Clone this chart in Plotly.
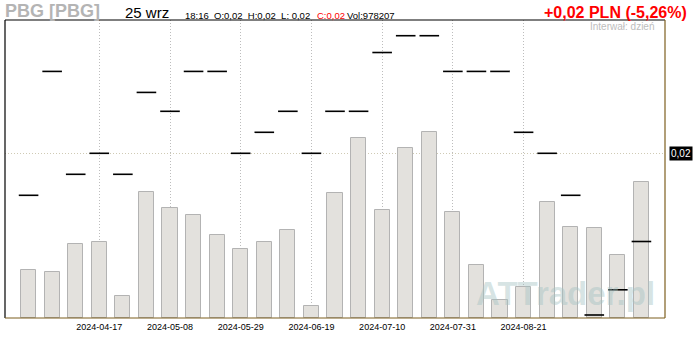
import pandas as pd
import plotly.graph_objects as go

# Weekly sessions (Wednesday dates)
weeks = pd.date_range("2024-03-27", periods=27, freq="7D")

# Weekly turnover, millions of shares
volume_m = [4.8, 4.6, 7.4, 7.6, 2.2, 12.6, 11.0, 10.3, 8.3, 6.9,
            7.6, 8.8, 1.2, 12.5, 18.0, 10.8, 17.0, 18.6, 10.6, 5.3,
            1.8, 3.1, 11.6, 9.1, 9.0, 6.3, 13.6]

# Weekly close, PLN
close_pln = [0.0180, 0.0239, 0.0190, 0.0200, 0.0190, 0.0229, 0.0220, 0.0239, 0.0239, 0.0200,
             0.0210, 0.0220, 0.0200, 0.0220, 0.0220, 0.0248, 0.0256, 0.0256, 0.0239, 0.0239,
             0.0239, 0.0210, 0.0200, 0.0180, 0.0123, 0.0135, 0.0158]

price_ticks = [0.02]
price_tick_text = ["0,02"]
date_ticks = list(weeks[3:22:3])
date_tick_text = [d.strftime("%Y-%m-%d") for d in date_ticks]

header_left = "PBG [PBG]"
header_date = "25 wrz"
quote_black = "18:16  O:0,02  H:0,02  L: 0,02"
quote_red = "C:0,02"
quote_vol = "Vol:978207"
change_text = "+0,02 PLN (-5,26%)"
interval_text = "Interwał: dzień"
watermark = "ATTrader.pl"

FONT = "Liberation Sans, Arial, sans-serif"
WEEK_MS = 7 * 24 * 3600 * 1000

fig = go.Figure()

fig.add_trace(go.Bar(
    x=weeks, y=volume_m, yaxis="y",
    width=0.64 * WEEK_MS,
    marker=dict(color="#e3e1dd", line=dict(color="#b3b3b3", width=1)),
    showlegend=False, hoverinfo="skip",
))

fig.add_trace(go.Scatter(
    x=weeks, y=close_pln, yaxis="y2", mode="markers",
    marker=dict(symbol="line-ew", size=14, color="black",
                line=dict(color="black", width=1.6)),
    showlegend=False, hoverinfo="skip",
))

fig.update_layout(
    width=700, height=340,
    margin=dict(l=5, r=35, t=20, b=22),
    paper_bgcolor="white", plot_bgcolor="white",
    font=dict(family=FONT, color="black"),
    bargap=0,
    xaxis=dict(
        type="date",
        range=[pd.Timestamp("2024-03-20"), pd.Timestamp("2024-10-02")],
        tickvals=date_ticks, ticktext=date_tick_text,
        ticks="", showline=False, zeroline=False,
        showgrid=True, gridcolor="#bdbdbd", griddash="1px,2px", gridwidth=1,
        tickfont=dict(family=FONT, size=9, color="black"),
        ticklabelstandoff=2,
    ),
    yaxis=dict(range=[0, 29.8], visible=False, showgrid=False, zeroline=False),
    yaxis2=dict(
        overlaying="y", side="right",
        range=[0.012157, 0.026348],
        tickvals=price_ticks, showticklabels=False, ticks="",
        showgrid=True, gridcolor="#cfcab4", griddash="1px,2px", gridwidth=1,
        zeroline=False, showline=False,
    ),
)

# Frame: black on the left and top, brown on the right and bottom
frame = [
    (0, 0, 0, 1, "black"),
    (0, 1, 1, 1, "black"),
    (1, 0, 1, 1, "#7d5e1e"),
    (0, 0, 1, 0, "#7d5e1e"),
]
for x0, y0, x1, y1, col in frame:
    fig.add_shape(type="line", xref="paper", yref="paper",
                  x0=x0, y0=y0, x1=x1, y1=y1,
                  line=dict(color=col, width=1.2), layer="above")

# Price label box on the right axis
for v, t in zip(price_ticks, price_tick_text):
    fig.add_annotation(x=1, xref="paper", y=v, yref="y2",
                       xanchor="left", yanchor="middle", xshift=4,
                       text=t, showarrow=False, bgcolor="black",
                       borderpad=1,
                       font=dict(family=FONT, size=10, color="white"))


def header(text, px, py, size, color, bold=False, anchor="left"):
    fig.add_annotation(
        x=0, xref="paper", y=1, yref="paper",
        xanchor=anchor, yanchor="middle",
        xshift=px - 5, yshift=20 - py,
        text=f"<b>{text}</b>" if bold else text,
        showarrow=False, borderpad=0,
        font=dict(family=FONT, size=size, color=color),
    )


header(header_left, 4, 11, 18, "#b4b4b4", bold=True)
header(header_date, 124, 12, 15, "black")
header(quote_black, 184, 15, 9.5, "black")
header(quote_red, 316, 15, 9.5, "#ff0000")
header(quote_vol, 346, 15, 9.5, "black")
header(change_text, 688, 12, 16, "#ff0000", bold=True, anchor="right")
header(interval_text, 655, 26, 10, "#bdbdbd", anchor="right")

# Watermark in the lower right
fig.add_annotation(
    x=1, xref="paper", y=0, yref="paper",
    xanchor="right", yanchor="bottom", xshift=-8, yshift=4,
    text=f"<b>{watermark}</b>", showarrow=False,
    font=dict(family=FONT, size=33, color="rgba(165,195,195,0.45)"),
)

fig.write_html("out.html")
